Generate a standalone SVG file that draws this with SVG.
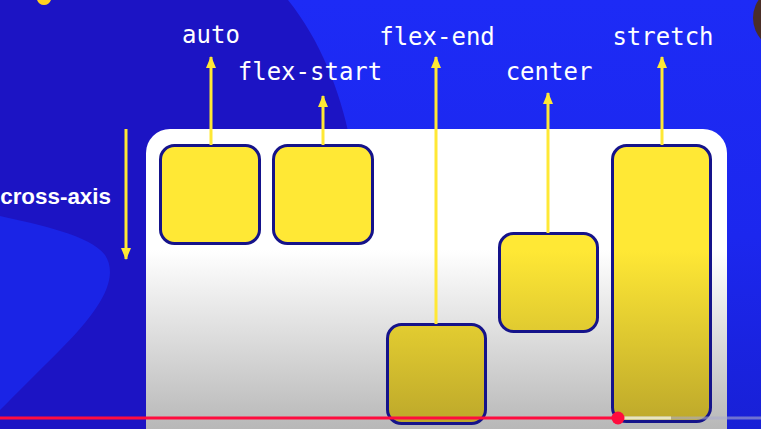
<svg xmlns="http://www.w3.org/2000/svg" width="761" height="429" viewBox="0 0 761 429">
<style>
.lbl{font-family:"DejaVu Sans Mono","Liberation Mono",monospace;font-size:24px;fill:#ffffff;text-anchor:middle}
.box{stroke:#15138a;stroke-width:3}
.yb{fill:url(#yg)}
.conn line{stroke:#ffe835;stroke-width:3}
</style>
<defs>
<linearGradient id="pg" gradientUnits="userSpaceOnUse" x1="0" y1="250" x2="0" y2="429">
<stop offset="0" stop-color="#ffffff"/><stop offset="1" stop-color="#b8b8b8"/>
</linearGradient>
<linearGradient id="yg" gradientUnits="userSpaceOnUse" x1="0" y1="250" x2="0" y2="429">
<stop offset="0" stop-color="#ffe835"/><stop offset="1" stop-color="#bba62a"/>
</linearGradient>
<linearGradient id="rbg" gradientUnits="userSpaceOnUse" x1="0" y1="0" x2="0" y2="429">
<stop offset="0" stop-color="#1d2bf6"/><stop offset="0.55" stop-color="#1c27ee"/><stop offset="1" stop-color="#1820d6"/>
</linearGradient>
<marker id="ah" viewBox="0 0 12 10" refX="11" refY="5" markerWidth="12" markerHeight="10" markerUnits="userSpaceOnUse" orient="auto">
<path d="M0,0 L12,5 L0,10 Z" fill="#ffe835"/>
</marker>
</defs>
<rect width="761" height="429" fill="#1c14c4"/>
<path d="M288,0 C320,40 340,90 350,140 L350,429 L761,429 L761,0 Z" fill="url(#rbg)"/>
<path d="M0,216 C40,225 90,235 105,255 C120,278 100,310 60,350 C35,375 15,395 0,410 Z" fill="#1a24e6"/>
<circle cx="785" cy="18" r="32" fill="#4a2e28"/>
<path d="M37,0 Q39,5 44,5 Q49,5 51,0 Z" fill="#ffd21e"/>
<rect x="146" y="129" width="581" height="330" rx="24" fill="url(#pg)"/>
<text x="111" y="204" font-family="Liberation Sans,Arial,sans-serif" font-size="22.4" font-weight="bold" fill="#ffffff" text-anchor="end">cross-axis</text>
<g id="auto"><rect class="box yb" x="160.5" y="145.5" width="99" height="98" rx="14"/></g>
<g id="flex-start"><rect class="box yb" x="273.5" y="145.5" width="99" height="98" rx="14"/></g>
<g id="flex-end"><rect class="box yb" x="387.5" y="324.5" width="98" height="99" rx="14"/></g>
<g id="center"><rect class="box yb" x="499.5" y="233.5" width="98" height="98" rx="14"/></g>
<g id="stretch"><rect class="box yb" x="612.5" y="145.5" width="98" height="276" rx="14"/></g>
<g class="conn">
<line x1="211" y1="145" x2="211" y2="57" marker-end="url(#ah)"/>
<line x1="323" y1="145" x2="323" y2="96" marker-end="url(#ah)"/>
<line x1="436" y1="324" x2="436" y2="57" marker-end="url(#ah)"/>
<line x1="548" y1="233" x2="548" y2="93" marker-end="url(#ah)"/>
<line x1="662" y1="145" x2="662" y2="57" marker-end="url(#ah)"/>
<line x1="126" y1="129" x2="126" y2="259" marker-end="url(#ah)"/>
</g>
<text class="lbl" x="211" y="43">auto</text>
<text class="lbl" x="310" y="80">flex-start</text>
<text class="lbl" x="437" y="45">flex-end</text>
<text class="lbl" x="549" y="80">center</text>
<text class="lbl" x="663" y="45">stretch</text>
<line x1="0" y1="418" x2="618" y2="418" stroke="#ff0c3e" stroke-width="3"/>
<line x1="618" y1="418" x2="761" y2="418" stroke="#aaaacc" stroke-opacity="0.6" stroke-width="3"/>
<line x1="618" y1="418" x2="671" y2="418" stroke="#e8e6c0" stroke-width="3"/>
<circle cx="618" cy="418" r="6.5" fill="#ff0c3e"/>
</svg>
